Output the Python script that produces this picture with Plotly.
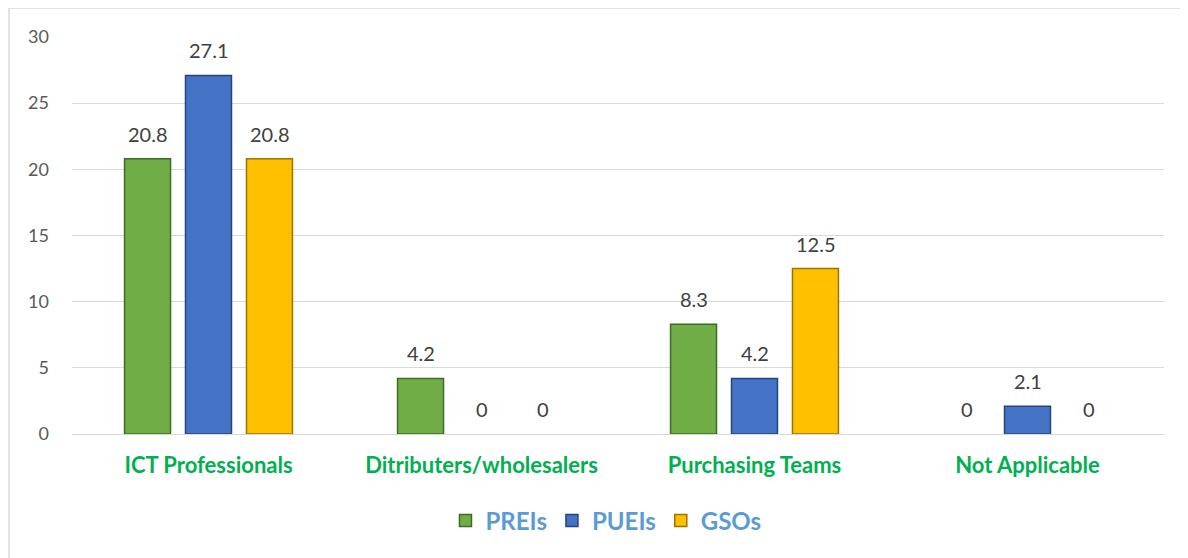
import plotly.graph_objects as go

categories = ["ICT Professionals", "Ditributers/wholesalers", "Purchasing Teams", "Not Applicable"]
series_names = ["PREIs", "PUEIs", "GSOs"]
prei = [20.8, 4.2, 8.3, 0]
puei = [27.1, 0, 4.2, 2.1]
gso = [20.8, 0, 12.5, 0]
y_ticks = [0, 5, 10, 15, 20, 25, 30]

values = [prei, puei, gso]
fills = ["#70AD47", "#4472C4", "#FFC000"]
edges = ["#3E6B25", "#26457E", "#9C7400"]

FONT = "Lato, Calibri, 'Liberation Sans', sans-serif"

fig = go.Figure()
for name, vals, c, e in zip(series_names, values, fills, edges):
    fig.add_trace(go.Bar(
        x=categories, y=vals, name=name,
        marker=dict(color=c, line=dict(color=e, width=[1.5 if v else 0 for v in vals])),
        hoverinfo="skip",
    ))

annotations = []
for i, vals in enumerate(values):
    for cat, v in zip(categories, vals):
        annotations.append(dict(
            x=cat, y=v, xref="x", yref="y", text=f"{v:g}", showarrow=False,
            xshift=(i - 1) * 61, yshift=25, yanchor="middle",
            font=dict(family=FONT, size=20, color="#404040"),
        ))

fig.update_layout(
    width=1188, height=558,
    margin=dict(l=64, r=32, t=29, b=132),
    paper_bgcolor="white", plot_bgcolor="white",
    barmode="group", bargap=0.33, bargroupgap=0.246,
    font=dict(family=FONT),
    showlegend=True,
    legend=dict(
        orientation="h", x=0.489, xanchor="center", y=-0.219, yanchor="middle",
        font=dict(family=FONT, size=24, color="#5B9BD5", weight="bold"),
        itemwidth=30, tracegroupgap=0,
    ),
    annotations=annotations,
    shapes=[
        dict(type="line", xref="paper", yref="paper", x0=-0.0577, x1=1.05, y0=1.073, y1=1.073,
             line=dict(color="#D9D9D9", width=1.5)),
        dict(type="line", xref="paper", yref="paper", x0=-0.0577, x1=-0.0577, y0=1.073, y1=-0.35,
             line=dict(color="#D9D9D9", width=1.5)),
    ],
)
fig.update_xaxes(
    showgrid=False, showline=False, ticks="", ticklabelstandoff=16,
    tickfont=dict(family=FONT, size=22, color="#00B050", weight="bold"),
)
fig.update_yaxes(
    range=[0, 30], tickvals=y_ticks, showgrid=True, gridcolor="#D9D9D9", gridwidth=1,
    zeroline=True, zerolinecolor="#D9D9D9", zerolinewidth=1, showline=False, ticks="",
    tickfont=dict(family=FONT, size=18, color="#595959"), ticklabelstandoff=22,
)

fig.write_html("out.html")
